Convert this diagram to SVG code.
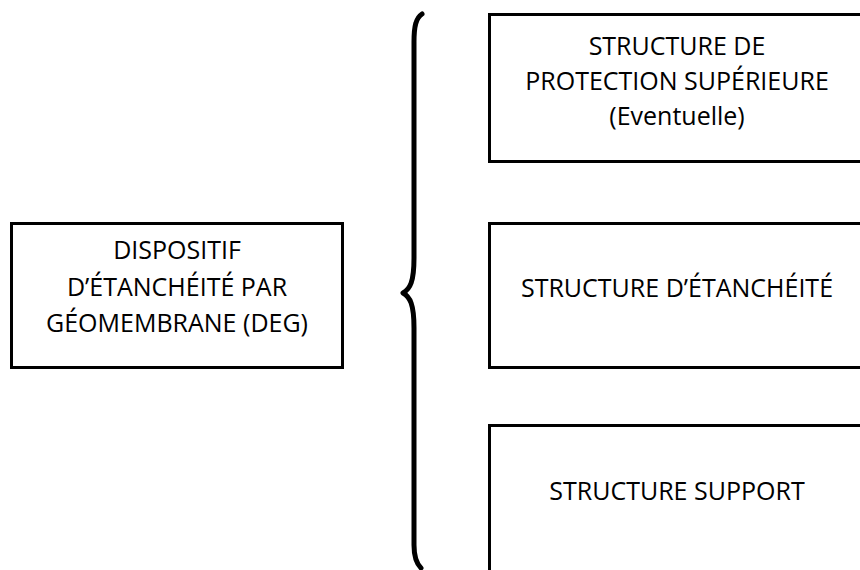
<svg xmlns="http://www.w3.org/2000/svg" width="860" height="570" viewBox="0 0 860 570">
<style>
.box{fill:#fff;stroke:#000;stroke-width:3}
.t{font-family:"Open Sans","Liberation Sans",sans-serif;font-size:25px;fill:#000;text-anchor:middle}
.brace{fill:none;stroke:#000;stroke-width:5;stroke-linecap:round;stroke-linejoin:round}
</style>
<rect width="860" height="570" fill="#fff"/>
<g id="connectors">
<path class="brace" d="M422,14 C416,18 414,26 414,42 L414,258 C414,282 410,289 403,293 C410,297 414,304 414,328 L414,545 C414,558 417,564 421,568"/>
</g>
<g id="deg">
<rect class="box" x="11.5" y="223.5" width="331" height="144"/>
<text class="t" x="177" y="259">DISPOSITIF</text>
<text class="t" x="177" y="296">D’ÉTANCHÉITÉ PAR</text>
<text class="t" x="177" y="332">GÉOMEMBRANE (DEG)</text>
</g>
<g id="protection">
<rect class="box" x="489.5" y="14.5" width="400" height="147"/>
<text class="t" x="677" y="55">STRUCTURE DE</text>
<text class="t" x="677" y="90">PROTECTION SUPÉRIEURE</text>
<text class="t" x="677" y="125">(Eventuelle)</text>
</g>
<g id="etancheite">
<rect class="box" x="489.5" y="223.5" width="400" height="144"/>
<text class="t" x="677" y="297">STRUCTURE D’ÉTANCHÉITÉ</text>
</g>
<g id="support">
<rect class="box" x="489.5" y="425.5" width="400" height="200"/>
<text class="t" x="677" y="500">STRUCTURE SUPPORT</text>
</g>
</svg>
